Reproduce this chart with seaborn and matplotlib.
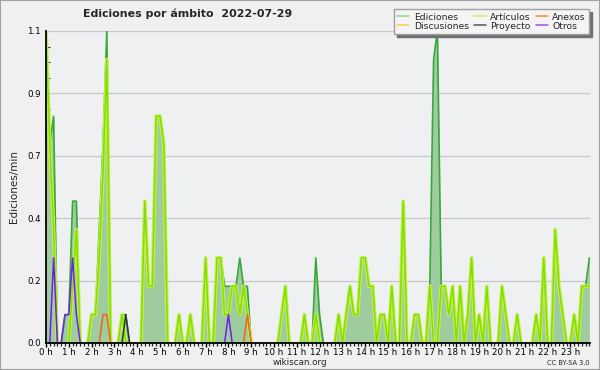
#!/usr/bin/env python3

import numpy as np
import matplotlib as mpl
mpl.use('Agg')
from matplotlib import pyplot as plt
from matplotlib.lines import Line2D
from matplotlib.patches import Rectangle
import seaborn as sns
import pandas as pd

# edits per minute, one value per 10 min slot, six slots per row = one hour
ediciones = [
    1.1, 0.7, 0.8, 0.0, 0.0, 0.1,   # 0 h
    0.1, 0.5, 0.5, 0.0, 0.0, 0.0,   # 1 h
    0.1, 0.1, 0.4, 0.7, 1.1, 0.0,   # 2 h
    0.0, 0.0, 0.1, 0.1, 0.0, 0.0,   # 3 h
    0.0, 0.0, 0.5, 0.2, 0.2, 0.8,   # 4 h
    0.8, 0.7, 0.0, 0.0, 0.0, 0.1,   # 5 h
    0.0, 0.0, 0.1, 0.0, 0.0, 0.0,   # 6 h
    0.3, 0.0, 0.0, 0.3, 0.3, 0.2,   # 7 h
    0.2, 0.2, 0.2, 0.3, 0.2, 0.2,   # 8 h
    0.0, 0.0, 0.0, 0.0, 0.0, 0.0,   # 9 h
    0.0, 0.0, 0.1, 0.2, 0.0, 0.0,   # 10 h
    0.0, 0.0, 0.1, 0.0, 0.0, 0.3,   # 11 h
    0.1, 0.0, 0.0, 0.0, 0.0, 0.1,   # 12 h
    0.0, 0.1, 0.2, 0.1, 0.1, 0.3,   # 13 h
    0.3, 0.2, 0.2, 0.0, 0.1, 0.1,   # 14 h
    0.0, 0.2, 0.0, 0.0, 0.5, 0.0,   # 15 h
    0.0, 0.1, 0.1, 0.0, 0.0, 0.2,   # 16 h
    1.0, 1.1, 0.2, 0.2, 0.1, 0.2,   # 17 h
    0.0, 0.2, 0.0, 0.1, 0.3, 0.0,   # 18 h
    0.1, 0.0, 0.2, 0.0, 0.0, 0.0,   # 19 h
    0.2, 0.1, 0.0, 0.0, 0.1, 0.0,   # 20 h
    0.0, 0.0, 0.0, 0.1, 0.0, 0.3,   # 21 h
    0.0, 0.0, 0.4, 0.2, 0.1, 0.0,   # 22 h
    0.0, 0.1, 0.0, 0.2, 0.2, 0.3,   # 23 h
]
articulos = [
    1.1, 0.7, 0.4, 0.0, 0.0, 0.0,
    0.0, 0.2, 0.4, 0.0, 0.0, 0.0,
    0.1, 0.1, 0.3, 0.6, 1.0, 0.0,
    0.0, 0.0, 0.1, 0.0, 0.0, 0.0,
    0.0, 0.0, 0.5, 0.2, 0.2, 0.8,
    0.8, 0.7, 0.0, 0.0, 0.0, 0.1,
    0.0, 0.0, 0.1, 0.0, 0.0, 0.0,
    0.3, 0.0, 0.0, 0.3, 0.3, 0.1,
    0.1, 0.2, 0.2, 0.1, 0.2, 0.1,
    0.0, 0.0, 0.0, 0.0, 0.0, 0.0,
    0.0, 0.0, 0.1, 0.2, 0.0, 0.0,
    0.0, 0.0, 0.1, 0.0, 0.0, 0.1,
    0.0, 0.0, 0.0, 0.0, 0.0, 0.1,
    0.0, 0.1, 0.2, 0.1, 0.1, 0.3,
    0.3, 0.2, 0.2, 0.0, 0.1, 0.1,
    0.0, 0.2, 0.0, 0.0, 0.5, 0.0,
    0.0, 0.1, 0.1, 0.0, 0.0, 0.2,
    0.0, 0.0, 0.2, 0.2, 0.1, 0.2,
    0.0, 0.2, 0.0, 0.1, 0.3, 0.0,
    0.1, 0.0, 0.2, 0.0, 0.0, 0.0,
    0.2, 0.1, 0.0, 0.0, 0.1, 0.0,
    0.0, 0.0, 0.0, 0.1, 0.0, 0.3,
    0.0, 0.0, 0.4, 0.2, 0.1, 0.0,
    0.0, 0.1, 0.0, 0.2, 0.2, 0.2,
]
# sparse series: slot index -> value
otros_slots = [2, 5, 6, 7, 8, 48]
otros_vals = [0.3, 0.1, 0.1, 0.3, 0.1, 0.1]
anexos_slots = [15, 16, 53]
anexos_vals = [0.1, 0.1, 0.1]
proyecto_slots = [21]
proyecto_vals = [0.1]

n_slots = len(ediciones)
t = np.arange(n_slots) / 6.0


def full(slots, vals):
    v = np.zeros(n_slots)
    v[slots] = vals
    return v


def segments(v):
    # keep only the runs around non zero values so nothing runs along the baseline
    v = np.asarray(v, dtype=float)
    nz = v > 0
    keep = nz.copy()
    keep[1:] |= nz[:-1]
    keep[:-1] |= nz[1:]
    seg = np.cumsum(keep & ~np.r_[False, keep[:-1]])
    df = pd.DataFrame({'t': t, 'v': v, 'seg': seg})
    return df[keep]


sns.set_style('white')
plt.rcParams['font.family'] = ['DejaVu Sans']

fig = plt.figure(figsize=(6, 3.7), dpi=100, facecolor='#f0f0f0')
ax = fig.add_axes([46 / 600, 1 - 343 / 370, 544 / 600, 312 / 370])
ax.set_facecolor('#eff0f2')

ax.fill_between(t, ediciones, color='#9fcc9f', lw=0, zorder=1)
sns.lineplot(data=segments(ediciones), x='t', y='v', units='seg', estimator=None,
             color='#38a838', lw=1.2, ax=ax, zorder=3)
art = segments(articulos)
sns.lineplot(data=art, x='t', y='v', units='seg', estimator=None,
             color='#c8ee50', lw=2.6, ax=ax, zorder=4)
sns.lineplot(data=art, x='t', y='v', units='seg', estimator=None,
             color='#80e000', lw=1.1, ax=ax, zorder=5)
for slots, vals, col in [(anexos_slots, anexos_vals, '#ee6420'),
                         (proyecto_slots, proyecto_vals, '#303830'),
                         (otros_slots, otros_vals, '#7020ee')]:
    sns.lineplot(data=segments(full(slots, vals)), x='t', y='v', units='seg',
                 estimator=None, color=col, lw=1.1, ax=ax, zorder=6)

ax.set_xlim(0, 23.86)
ax.set_ylim(0, 1.1)
yt = np.linspace(0, 1.1, 6)
ax.set_yticks(yt)
ax.set_yticklabels(['%.1f' % y for y in yt])
ax.yaxis.set_minor_locator(mpl.ticker.FixedLocator(np.linspace(0, 1.1, 21)))
ax.set_xticks(range(24))
ax.set_xticklabels(['%d h' % h for h in range(24)])
ax.xaxis.set_minor_locator(mpl.ticker.MultipleLocator(1 / 6))
ax.tick_params(axis='both', which='major', labelsize=6.2, colors='black', pad=1)
ax.tick_params(axis='x', which='major', pad=0.3)
ax.tick_params(axis='y', which='major', direction='inout', length=5, width=0.9)
ax.tick_params(axis='y', which='minor', direction='in', length=3, width=0.8, left=True)
ax.tick_params(axis='x', which='major', direction='out', length=3, width=1.0, bottom=True)
ax.tick_params(axis='x', which='minor', direction='out', length=2.5, width=0.9, bottom=True)
ax.yaxis.grid(True, color='#c8c8c8', lw=0.9)
ax.xaxis.grid(False)
ax.set_axisbelow(True)
for s in ['top', 'right']:
    ax.spines[s].set_visible(False)
for s in ['left', 'bottom']:
    ax.spines[s].set_color('black')
    ax.spines[s].set_linewidth(1.3)
    ax.spines[s].set_zorder(10)
ax.set_xlabel('')
ax.set_ylabel('Ediciones/min', fontsize=7.5, labelpad=6)

fig.text(0.313, 0.962, 'Ediciones por ámbito  2022-07-29', ha='center', va='center',
         fontsize=7.9, fontweight='bold')
fig.text(0.5, 0.02, 'wikiscan.org', ha='center', va='center', fontsize=6.3)
fig.text(0.982, 0.02, 'CC BY-SA 3.0', ha='right', va='center', fontsize=4.8)

labels = ['Ediciones', 'Discusiones', 'Artículos', 'Proyecto', 'Anexos', 'Otros']
colors = ['#8fd48f', '#f4d44c', '#c8f060', '#555555', '#f08850', '#9a50f0']
handles = [Line2D([], [], color=c, lw=1.1) for c in colors]
fig.legend(handles, labels, ncol=3, loc='upper right', bbox_to_anchor=(0.982, 0.975),
           fontsize=6.7, frameon=True, fancybox=False, edgecolor='#a0a0a0',
           facecolor='#f4f4f4', framealpha=1, shadow={'color': '#707070', 'alpha': 1},
           handlelength=1.3, handletextpad=0.5, columnspacing=0.5, labelspacing=0.0,
           borderpad=0.35, borderaxespad=0)

fig.patches.append(Rectangle((0, 0), 1, 1, transform=fig.transFigure, fill=False,
                             edgecolor='#a0a0a0', lw=1.5))

fig.savefig('out.png', dpi=100, facecolor=fig.get_facecolor())
